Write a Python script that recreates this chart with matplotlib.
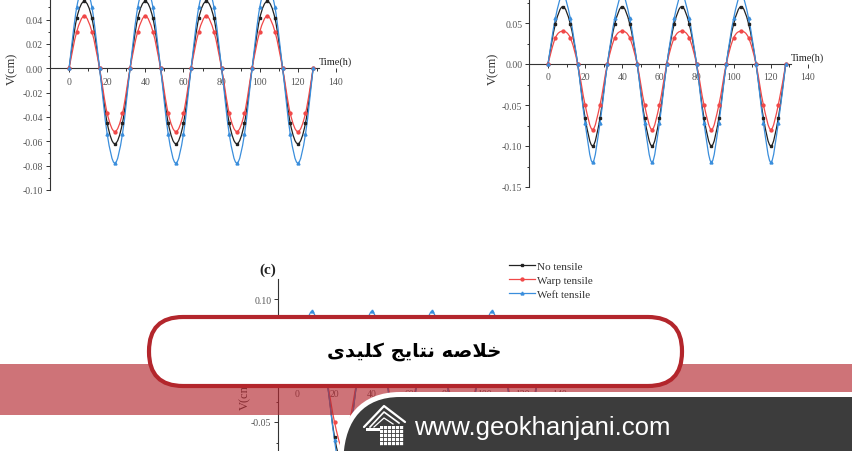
"""Three V(cm)-vs-time panels with the site banner on top"""

import matplotlib
matplotlib.use("Agg")
import matplotlib.pyplot as plt
from matplotlib.path import Path
from matplotlib.patches import PathPatch, FancyBboxPatch, Rectangle
from matplotlib.lines import Line2D

plt.rcParams['font.family'] = ['Liberation Serif', 'DejaVu Serif']

W, H = 852, 452

#Time axis, one marker every 4 h
hours = list(range(0, 129, 4))

#Panel (a)
no_a = [0, 0.041, 0.055, 0.041, 0, -0.045, -0.062, -0.045,
        0, 0.041, 0.055, 0.041, 0, -0.045, -0.062, -0.045,
        0, 0.041, 0.055, 0.041, 0, -0.045, -0.062, -0.045,
        0, 0.041, 0.055, 0.041, 0, -0.045, -0.062, -0.045, 0]
warp_a = [0, 0.030, 0.043, 0.030, 0, -0.037, -0.052, -0.037,
          0, 0.030, 0.043, 0.030, 0, -0.037, -0.052, -0.037,
          0, 0.030, 0.043, 0.030, 0, -0.037, -0.052, -0.037,
          0, 0.030, 0.043, 0.030, 0, -0.037, -0.052, -0.037, 0]
weft_a = [0, 0.050, 0.068, 0.050, 0, -0.054, -0.078, -0.054,
          0, 0.050, 0.068, 0.050, 0, -0.054, -0.078, -0.054,
          0, 0.050, 0.068, 0.050, 0, -0.054, -0.078, -0.054,
          0, 0.050, 0.068, 0.050, 0, -0.054, -0.078, -0.054, 0]

#Panel (b)
no_b = [0, 0.049, 0.070, 0.049, 0, -0.066, -0.100, -0.066,
        0, 0.049, 0.070, 0.049, 0, -0.066, -0.100, -0.066,
        0, 0.049, 0.070, 0.049, 0, -0.066, -0.100, -0.066,
        0, 0.049, 0.070, 0.049, 0, -0.066, -0.100, -0.066, 0]
warp_b = [0, 0.032, 0.040, 0.032, 0, -0.050, -0.080, -0.050,
          0, 0.032, 0.040, 0.032, 0, -0.050, -0.080, -0.050,
          0, 0.032, 0.040, 0.032, 0, -0.050, -0.080, -0.050,
          0, 0.032, 0.040, 0.032, 0, -0.050, -0.080, -0.050, 0]
weft_b = [0, 0.056, 0.085, 0.056, 0, -0.072, -0.120, -0.072,
          0, 0.056, 0.085, 0.056, 0, -0.072, -0.120, -0.072,
          0, 0.056, 0.085, 0.056, 0, -0.072, -0.120, -0.072,
          0, 0.056, 0.085, 0.056, 0, -0.072, -0.120, -0.072, 0]

#Panel (c), mostly hidden by the banner
no_c = [0, 0.050, 0.072, 0.050, 0, -0.068, -0.100, -0.068,
        0, 0.050, 0.072, 0.050, 0, -0.068, -0.100, -0.068,
        0, 0.050, 0.072, 0.050, 0, -0.068, -0.100, -0.068,
        0, 0.050, 0.072, 0.050, 0, -0.068, -0.100, -0.068, 0]
warp_c = [0, 0.035, 0.050, 0.035, 0, -0.050, -0.080, -0.050,
          0, 0.035, 0.050, 0.035, 0, -0.050, -0.080, -0.050,
          0, 0.035, 0.050, 0.035, 0, -0.050, -0.080, -0.050,
          0, 0.035, 0.050, 0.035, 0, -0.050, -0.080, -0.050, 0]
weft_c = [0, 0.058, 0.085, 0.058, 0, -0.072, -0.120, -0.072,
          0, 0.058, 0.085, 0.058, 0, -0.072, -0.120, -0.072,
          0, 0.058, 0.085, 0.058, 0, -0.072, -0.120, -0.072,
          0, 0.058, 0.085, 0.058, 0, -0.072, -0.120, -0.072, 0]

labels = ["No tensile", "Warp tensile", "Weft tensile"]
colors = ["#222222", "#f04848", "#3a8edc"]
markers = ["s", "o", "^"]

x_ticks = [0, 20, 40, 60, 80, 100, 120, 140]


def smooth_path(x, y):
	"""Catmull-Rom spline through the points, as cubic bezier pieces"""
	pts = list(zip(x, y))
	verts = [pts[0]]
	codes = [Path.MOVETO]
	n = len(pts)
	for i in range(n - 1):
		p0 = pts[i - 1] if i > 0 else pts[i]
		p1 = pts[i]
		p2 = pts[i + 1]
		p3 = pts[i + 2] if i + 2 < n else pts[i + 1]
		c1 = (p1[0] + (p2[0] - p0[0]) / 6, p1[1] + (p2[1] - p0[1]) / 6)
		c2 = (p2[0] - (p3[0] - p1[0]) / 6, p2[1] - (p3[1] - p1[1]) / 6)
		verts += [c1, c2, p2]
		codes += [Path.CURVE4] * 3
	return Path(verts, codes)


def px_axes(fig, left, right, top, bottom):
	"""Axes given in pixels from the top-left corner"""
	return fig.add_axes([left / W, 1 - bottom / H, (right - left) / W, (bottom - top) / H])


def panel(ax, series, ylim, yticks, yminor, ybottom, ytop):
	for vals, c, m in zip(series, colors, markers):
		ax.add_patch(PathPatch(smooth_path(hours, vals), fill=False, ec=c, lw=0.9, zorder=2))
		ax.plot(hours, vals, ls="none", marker=m, ms=2.1, color=c, zorder=3)

	ax.set_xlim(-10, 140)
	ax.set_ylim(*ylim)
	ax.patch.set_alpha(0)
	for s in ["top", "right"]:
		ax.spines[s].set_visible(False)
	ax.spines["bottom"].set_position(("data", 0))
	ax.spines["bottom"].set_bounds(-10, 131)
	ax.spines["left"].set_bounds(ybottom, ytop)
	for s in ["bottom", "left"]:
		ax.spines[s].set_color("#333333")
		ax.spines[s].set_linewidth(0.8)

	ax.set_xticks(x_ticks)
	ax.set_xticks([10, 30, 50, 70, 90, 110, 130], minor=True)
	ax.set_yticks(yticks)
	ax.set_yticklabels([f"{v:.2f}" for v in yticks])
	ax.set_yticks(yminor, minor=True)
	ax.tick_params(which="both", direction="out", colors="#333333", labelsize=7, width=0.7)
	ax.tick_params(which="major", length=3, pad=2)
	ax.tick_params(which="minor", length=1.8)
	ax.tick_params(axis="x", labelcolor="#555555", pad=3)
	ax.tick_params(axis="y", labelcolor="#555555")
	ax.text(131, 0.002, "Time(h)", fontsize=7.5, ha="left", va="bottom", color="#222222")


fig = plt.figure(figsize=(W / 100, H / 100), dpi=100)

#(a)
ax_a = px_axes(fig, 50, 336, -28, 191)
panel(ax_a, [no_a, warp_a, weft_a], (-0.10, 0.08),
      [-0.10, -0.08, -0.06, -0.04, -0.02, 0.00, 0.02, 0.04, 0.06],
      [-0.09, -0.07, -0.05, -0.03, -0.01, 0.01, 0.03, 0.05, 0.07], -0.10, 0.08)
fig.text(12 / W, 1 - 69 / H, "V(cm)", rotation=90, fontsize=9, ha="center", va="center", color="#333333")

#(b)
ax_b = px_axes(fig, 529.4, 808, -33.4, 188)
panel(ax_b, [no_b, warp_b, weft_b], (-0.15, 0.12),
      [-0.15, -0.10, -0.05, 0.00, 0.05, 0.10],
      [-0.125, -0.075, -0.025, 0.025, 0.075], -0.15, 0.12)
fig.text(493 / W, 1 - 69 / H, "V(cm)", rotation=90, fontsize=9, ha="center", va="center", color="#333333")

#(c)
ax_c = px_axes(fig, 278.25, 559.5, 279.5, 505)
panel(ax_c, [no_c, warp_c, weft_c], (-0.15, 0.125),
      [-0.15, -0.10, -0.05, 0.00, 0.05, 0.10],
      [-0.125, -0.075, -0.025, 0.025, 0.075], -0.15, 0.125)
fig.text(245 / W, 1 - 394 / H, "V(cm)", rotation=90, fontsize=9, ha="center", va="center", color="#333333")
fig.text(268 / W, 1 - 270 / H, "(c)", fontsize=11, fontweight="bold", ha="center", va="center", color="#222222")

handles = [Line2D([], [], color=c, marker=m, ms=2.1, lw=0.9) for c, m in zip(colors, markers)]
fig.legend(handles, labels, loc="upper left", bbox_to_anchor=(503 / W, 1 - 257 / H),
           frameon=False, fontsize=8, handlelength=2.4, handletextpad=0.2,
           labelspacing=0.35, borderpad=0, labelcolor="#333333")

#Banner overlay, drawn in pixel coordinates
ov = fig.add_axes([0, 0, 1, 1], zorder=10)
ov.set_xlim(0, W)
ov.set_ylim(H, 0)
ov.axis("off")

ov.add_patch(Rectangle((0, 365), W, 51, color=(0.706, 0.157, 0.188), alpha=0.65, lw=0))

ov.add_patch(FancyBboxPatch((149, 318), 533, 69, boxstyle="round,pad=0,rounding_size=34",
                            fc="white", ec="#b3262c", lw=3.0))

#Persian title, letters in presentation forms laid out right to left
title = ("\uFEEF\uFEAA\uFEF4\uFEE0\uFEDB" + " " +
         "\uFE9E\uFEF3\uFE8E\uFE98\uFEE7" + " " +
         "\uFEEA\uFEBB\uFEFC\uFEA7")
ov.text(414, 352, title, fontsize=14, fontweight="bold", family=["DejaVu Sans"],
        ha="center", va="center", color="black")

banner = Path([(W + 5, 395.5), (400, 395.5), (362, 395.5), (343, 420), (341, H + 5),
               (W + 5, H + 5), (W + 5, 395.5)],
              [Path.MOVETO, Path.LINETO, Path.CURVE4, Path.CURVE4, Path.CURVE4,
               Path.LINETO, Path.CLOSEPOLY])
ov.add_patch(PathPatch(banner, fc="#3c3c3c", ec="white", lw=3.6))

#Small white logo
ov.plot([364, 384, 405], [428, 407, 423], color="white", lw=1.6, solid_capstyle="round")
ov.plot([370, 384, 399], [428, 413, 424], color="white", lw=1.2)
ov.plot([374, 384, 393], [428, 419, 425], color="white", lw=0.9)
ov.add_patch(Rectangle((366, 429), 14, 3, color="white", lw=0))
ov.add_patch(Rectangle((380, 427), 24, 20, color="white", lw=0))
for gx in range(383, 404, 4):
	ov.plot([gx, gx], [427, 447], color="#3c3c3c", lw=0.6)
for gy in range(430, 447, 4):
	ov.plot([380, 404], [gy, gy], color="#3c3c3c", lw=0.6)

ov.text(414, 428, "www.geokhanjani.com", color="white", fontsize=18.5,
        family="Liberation Sans", ha="left", va="center")

fig.savefig("out.png", dpi=100)
